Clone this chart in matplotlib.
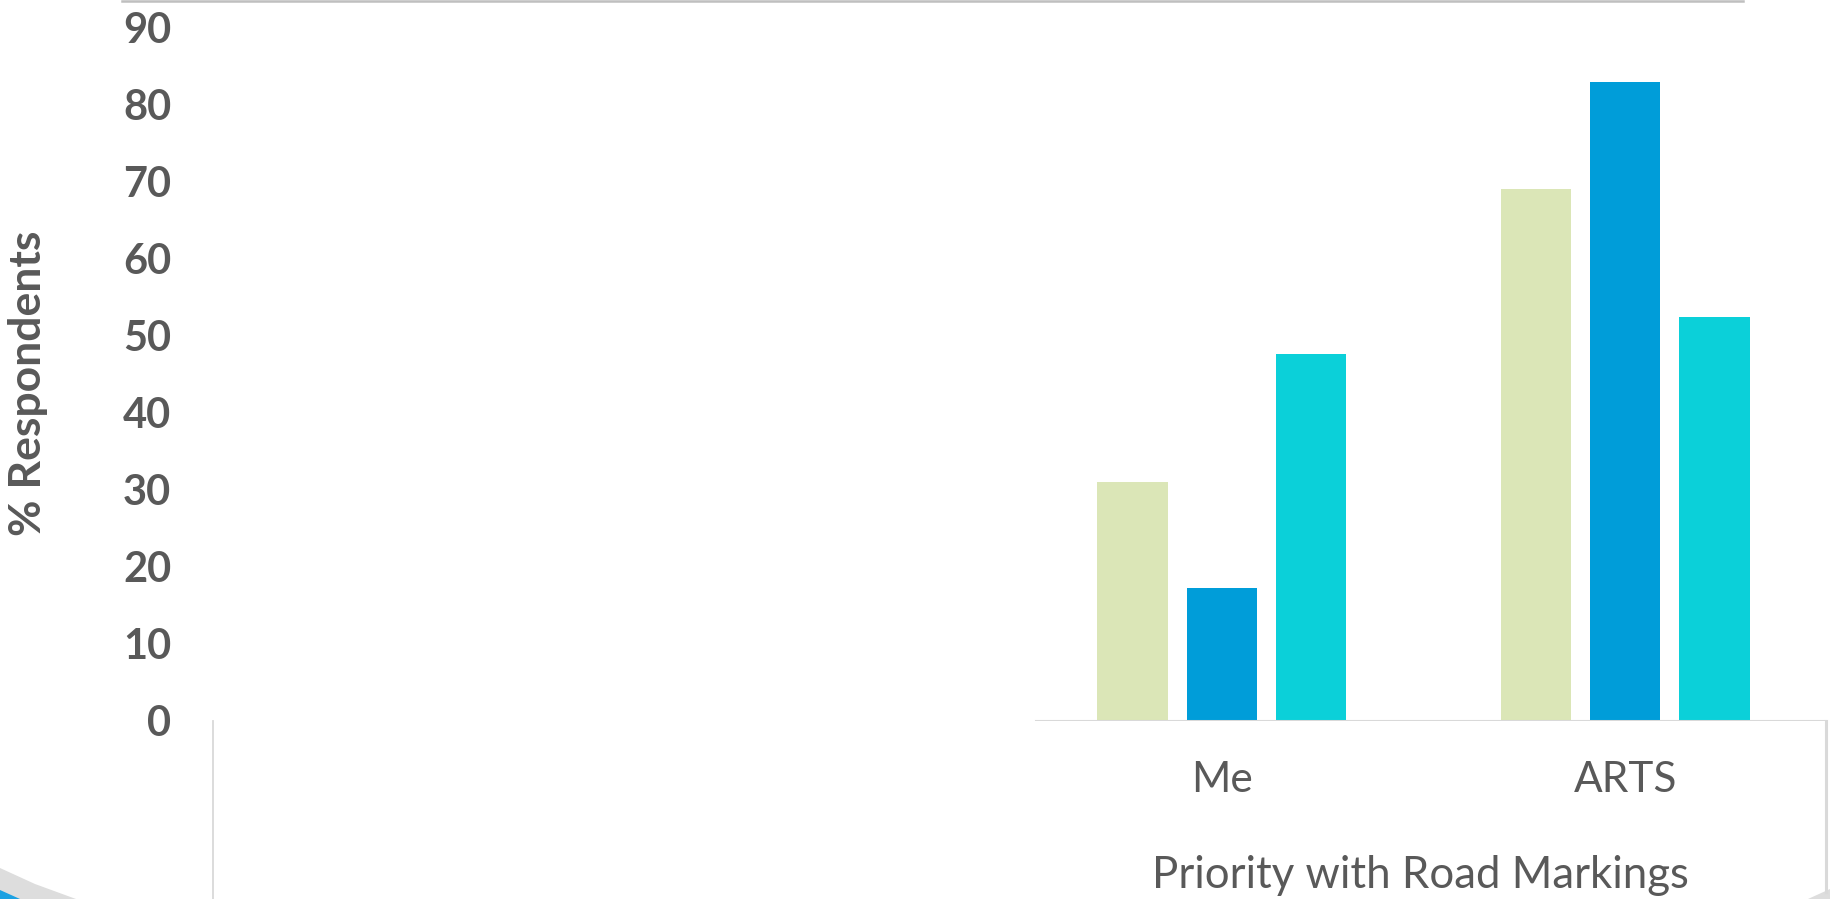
import matplotlib
matplotlib.use('Agg')
import matplotlib.pyplot as plt
from matplotlib.lines import Line2D
from matplotlib.patches import Polygon

# data
categories = ['Me', 'ARTS']
series1 = [31.0, 69.1]   # light green
series2 = [17.3, 83.0]   # blue
series3 = [47.7, 52.5]   # cyan
y_ticks = [0, 10, 20, 30, 40, 50, 60, 70, 80, 90]

colors = ['#DBE6B7', '#009DD9', '#0BD0D9']
grey = '#595959'
W, H = 1830, 899

plt.rcParams['font.family'] = ['Lato', 'DejaVu Sans']
fig = plt.figure(figsize=(W / 100, H / 100), dpi=100)

# plot area (pixel coords from the reference)
ax = fig.add_axes([213 / W, (H - 721) / H, (1827 - 213) / W, 721 / H])
ax.set_xlim(-2.5, 1.5)
ax.set_ylim(0, 93.6)

x = list(range(len(categories)))
bw = 0.174
step = 0.221
for i, (vals, c) in enumerate(zip([series1, series2, series3], colors)):
    ax.bar([p + (i - 1) * step for p in x], vals, width=bw, color=c, zorder=2)

for s in ax.spines.values():
    s.set_visible(False)
ax.axhline(0, xmin=(1036 - 213) / (1827 - 213), xmax=1, color='#D9D9D9', lw=2.2, zorder=3)

ax.set_yticks(y_ticks)
ax.set_yticklabels([str(v) for v in y_ticks], fontsize=30, fontweight='bold', color=grey)
ax.tick_params(axis='y', length=0, pad=30)
ax.set_xticks(x)
ax.set_xticklabels(categories, fontsize=30.5, color=grey)
ax.tick_params(axis='x', length=0, pad=29)

fig.text(28 / W, 1 - 383 / H, '% Respondents', rotation=90, fontsize=32, fontweight='bold',
         color=grey, ha='center', va='center')
fig.text(1420 / W, 1 - 875 / H, 'Priority with Road Markings', fontsize=31.5, color=grey,
         ha='center', va='center')

# frame lines / slide leftovers
fig.add_artist(Line2D([122 / W, 1743 / W], [1 - 1 / H, 1 - 1 / H], color='#BFBFBF', lw=1.8))
fig.add_artist(Line2D([213 / W, 213 / W], [1 - 721 / H, 0], color='#D9D9D9', lw=1.3))
fig.add_artist(Line2D([1826 / W, 1826 / W], [1 - 721 / H, 1 - 892 / H], color='#D9D9D9', lw=2.2))
fig.add_artist(Polygon([(0, 1 - 868 / H), (35 / W, 1 - 884 / H), (76 / W, 0), (0, 0)],
                       closed=True, transform=fig.transFigure, color='#DDDDDD', lw=0))
fig.add_artist(Polygon([(0, 1 - 890 / H), (20 / W, 0), (0, 0)],
                       closed=True, transform=fig.transFigure, color='#1BA1E2', lw=0))
fig.add_artist(Polygon([(1808 / W, 0), (W / W, 1 - 889 / H), (1, 0)],
                       closed=True, transform=fig.transFigure, color='#DDDDDD', lw=0))

fig.savefig('out.png', dpi=100)
